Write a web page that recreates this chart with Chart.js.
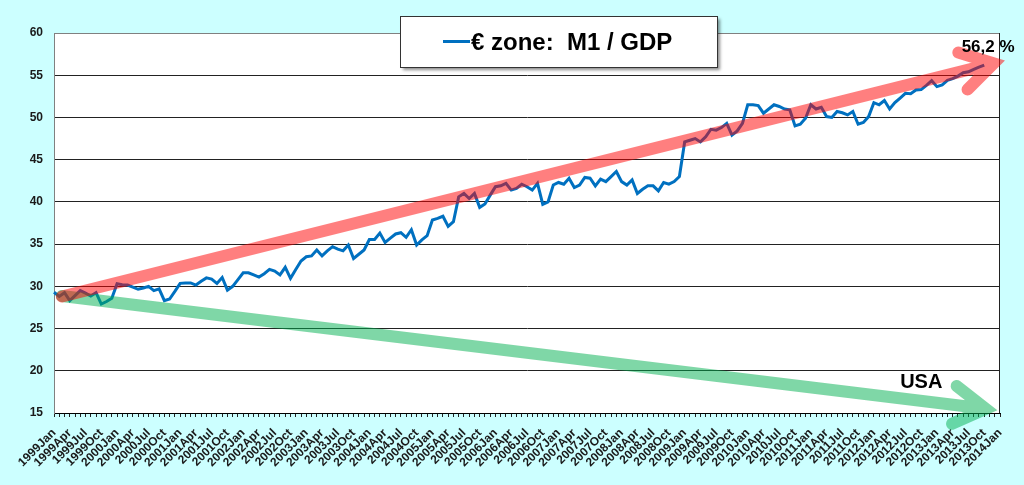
<!DOCTYPE html>
<html>
<head>
<meta charset="utf-8">
<script src="https://cdn.jsdelivr.net/npm/chart.js@4/dist/chart.umd.min.js"></script>
<style>
html,body{margin:0;padding:0;background:#CCFFFF;}
canvas{display:block;}
</style>
</head>
<body>
<canvas id="c" width="1024" height="485"></canvas>
<script>
// ---------- data ----------
const years = [1999,2000,2001,2002,2003,2004,2005,2006,2007,2008,2009,2010,2011,2012,2013,2014];
const monthNames = ['Jan','Feb','Mar','Apr','May','Jun','Jul','Aug','Sep','Oct','Nov','Dec'];
const tickMonths = ['Jan','Apr','Jul','Oct'];
const categories = [];
years.forEach(y => monthNames.forEach(m => {
  if (y < 2014 || m === 'Jan') categories.push(y + m);
}));

// Euro zone M1 / GDP (%), monthly 1999 Jan .. 2013 Oct
const m1GdpRatio = [
  29.3, 28.8, 29.25, 28.3, 28.9, 29.5, 29.2, 28.85, 29.25, 27.9, 28.2, 28.6,   // 1999
  30.3, 30.2, 30.15, 29.9, 29.65, 29.8, 30.0, 29.5, 29.7, 28.3, 28.5, 29.4,    // 2000
  30.35, 30.4, 30.4, 30.15, 30.6, 31.0, 30.85, 30.35, 31.05, 29.55, 30.0, 30.8,// 2001
  31.6, 31.6, 31.35, 31.1, 31.5, 32.0, 31.8, 31.35, 32.25, 30.95, 32.0, 33.0,  // 2002
  33.5, 33.6, 34.3, 33.6, 34.2, 34.7, 34.4, 34.2, 34.9, 33.3, 33.8, 34.3,      // 2003
  35.55, 35.55, 36.3, 35.2, 35.7, 36.2, 36.35, 35.8, 36.7, 34.9, 35.5, 36.0,   // 2004
  37.85, 38.05, 38.3, 37.1, 37.65, 40.6, 41.0, 40.4, 41.0, 39.35, 39.75, 40.8, // 2005
  41.8, 41.9, 42.2, 41.4, 41.6, 42.1, 41.8, 41.4, 42.2, 39.7, 40.0, 42.0,      // 2006
  42.3, 42.1, 42.8, 41.7, 42.0, 42.9, 42.8, 41.9, 42.7, 42.4, 43.0, 43.6,      // 2007
  42.4, 42.0, 42.6, 41.0, 41.5, 41.9, 41.9, 41.3, 42.3, 42.1, 42.4, 43.0,      // 2008
  47.1, 47.3, 47.5, 47.1, 47.7, 48.6, 48.5, 48.8, 49.3, 47.9, 48.4, 49.3,      // 2009
  51.5, 51.5, 51.4, 50.5, 51.0, 51.5, 51.3, 51.0, 50.9, 49.0, 49.2, 49.9,      // 2010
  51.5, 51.0, 51.2, 50.1, 50.0, 50.7, 50.55, 50.3, 50.7, 49.2, 49.4, 50.1,     // 2011
  51.75, 51.5, 52.0, 51.0, 51.75, 52.3, 52.85, 52.8, 53.25, 53.3, 53.8, 54.35, // 2012
  53.65, 53.85, 54.4, 54.6, 54.9, 55.3, 55.4, 55.7, 55.95, 56.2                // 2013
];

const seriesName = '€ zone:  M1 / GDP';
const endLabel = '56,2 %';
const usaLabel = 'USA';
const yMin = 15, yMax = 60, yStep = 5;

// trend arrows: [category index, value] start and tip
const euroTrend = [[1.5, 28.8], [178.8, 56.4]];
const usaTrend  = [[1.5, 28.85], [177.3, 15.5]];
// annotation anchors: [category index, value]
const endLabelAt = [172.7, 57.75];
const usaLabelAt = [161.0, 17.96];

// ---------- drawing ----------
const FONT = '"Liberation Sans", Arial, sans-serif';

function drawArrow(ctx, xs, ys, pts, color) {
  const x0 = xs.getPixelForValue(pts[0][0]), y0 = ys.getPixelForValue(pts[0][1]);
  const x1 = xs.getPixelForValue(pts[1][0]), y1 = ys.getPixelForValue(pts[1][1]);
  const ang = Math.atan2(y1 - y0, x1 - x0);
  const L = 37, spread = 31 * Math.PI / 180;
  const bx1 = x1 - L * Math.cos(ang - spread), by1 = y1 - L * Math.sin(ang - spread);
  const bx2 = x1 - L * Math.cos(ang + spread), by2 = y1 - L * Math.sin(ang + spread);
  ctx.save();
  ctx.strokeStyle = color;
  ctx.lineWidth = 12;
  ctx.lineCap = 'round';
  ctx.lineJoin = 'miter';
  ctx.miterLimit = 10;
  ctx.beginPath();
  ctx.moveTo(x0, y0); ctx.lineTo(x1, y1);
  ctx.moveTo(bx1, by1); ctx.lineTo(x1, y1); ctx.lineTo(bx2, by2);
  ctx.stroke();
  ctx.restore();
}

const decor = {
  id: 'decor',
  beforeDraw(chart) {
    const {ctx, chartArea: a} = chart;
    ctx.save();
    ctx.fillStyle = '#CCFFFF';
    ctx.fillRect(0, 0, chart.width, chart.height);
    ctx.fillStyle = '#FFFFFF';
    ctx.fillRect(a.left, a.top, a.right - a.left, a.bottom - a.top);
    ctx.restore();
  },
  afterDraw(chart) {
    const {ctx, chartArea: a, scales: {x, y}} = chart;
    ctx.save();
    // plot border (top + right)
    ctx.lineWidth = 1;
    ctx.strokeStyle = '#808080';
    ctx.beginPath(); ctx.moveTo(a.left, a.top + 0.5); ctx.lineTo(a.right, a.top + 0.5); ctx.stroke();
    ctx.strokeStyle = '#222222';
    ctx.beginPath(); ctx.moveTo(a.right - 0.5, a.top); ctx.lineTo(a.right - 0.5, a.bottom); ctx.stroke();
    ctx.restore();

    // trend arrows
    drawArrow(ctx, x, y, usaTrend, 'rgba(0,176,80,0.5)');
    drawArrow(ctx, x, y, euroTrend, 'rgba(255,0,0,0.5)');

    // annotations
    ctx.save();
    ctx.fillStyle = '#000000';
    ctx.textAlign = 'left';
    ctx.textBaseline = 'alphabetic';
    ctx.font = 'bold 17px ' + FONT;
    ctx.fillText(endLabel, x.getPixelForValue(endLabelAt[0]), y.getPixelForValue(endLabelAt[1]));
    ctx.font = 'bold 20px ' + FONT;
    ctx.fillText(usaLabel, x.getPixelForValue(usaLabelAt[0]), y.getPixelForValue(usaLabelAt[1]));
    ctx.restore();

    // legend box
    ctx.save();
    const bx = 400, by = 16, bw = 317, bh = 51;
    ctx.shadowColor = 'rgba(0,0,0,0.45)';
    ctx.shadowOffsetX = 3; ctx.shadowOffsetY = 3; ctx.shadowBlur = 3;
    ctx.fillStyle = '#FFFFFF';
    ctx.fillRect(bx, by, bw, bh);
    ctx.shadowColor = 'transparent';
    ctx.lineWidth = 1;
    ctx.strokeStyle = '#333333';
    ctx.strokeRect(bx + 0.5, by + 0.5, bw, bh);
    ctx.strokeStyle = '#0070C0';
    ctx.lineWidth = 3;
    ctx.beginPath(); ctx.moveTo(443, 41.5); ctx.lineTo(470, 41.5); ctx.stroke();
    ctx.fillStyle = '#000000';
    ctx.font = 'bold 24px ' + FONT;
    ctx.textAlign = 'left';
    ctx.textBaseline = 'alphabetic';
    ctx.fillText(seriesName, 471, 50);
    ctx.restore();
  }
};

new Chart(document.getElementById('c'), {
  type: 'line',
  data: {
    labels: categories,
    datasets: [{
      label: seriesName,
      data: m1GdpRatio,
      borderColor: '#0070C0',
      borderWidth: 3,
      pointRadius: 0,
      pointHoverRadius: 0,
      tension: 0,
      fill: false
    }]
  },
  options: {
    responsive: false,
    animation: false,
    events: [],
    layout: { padding: { left: 0, top: 33, right: 24, bottom: 0 } },
    plugins: { legend: { display: false }, tooltip: { enabled: false } },
    scales: {
      x: {
        type: 'category',
        offset: false,
        grid: { drawOnChartArea: false, drawTicks: true, tickLength: 4, color: '#222222', lineWidth: 1 },
        border: { color: '#000000', width: 1 },
        ticks: {
          autoSkip: false,
          minRotation: 45,
          maxRotation: 45,
          padding: 9,
          color: '#1a1a1a',
          font: { family: FONT, size: 12, weight: 'bold' },
          callback: function(v, i) {
            const lab = categories[i];
            return tickMonths.some(m => lab.endsWith(m)) ? lab : '';
          }
        },
        afterFit(scale) { scale.height = 72; }
      },
      y: {
        min: yMin,
        max: yMax,
        grid: { drawTicks: false, color: '#222222', lineWidth: 1 },
        border: { color: '#808080', width: 1 },
        ticks: {
          stepSize: yStep,
          padding: 11,
          color: '#1a1a1a',
          font: { family: FONT, size: 12, weight: 'bold' }
        },
        afterFit(scale) { scale.width = 54; }
      }
    }
  },
  plugins: [decor]
});
</script>
</body>
</html>
